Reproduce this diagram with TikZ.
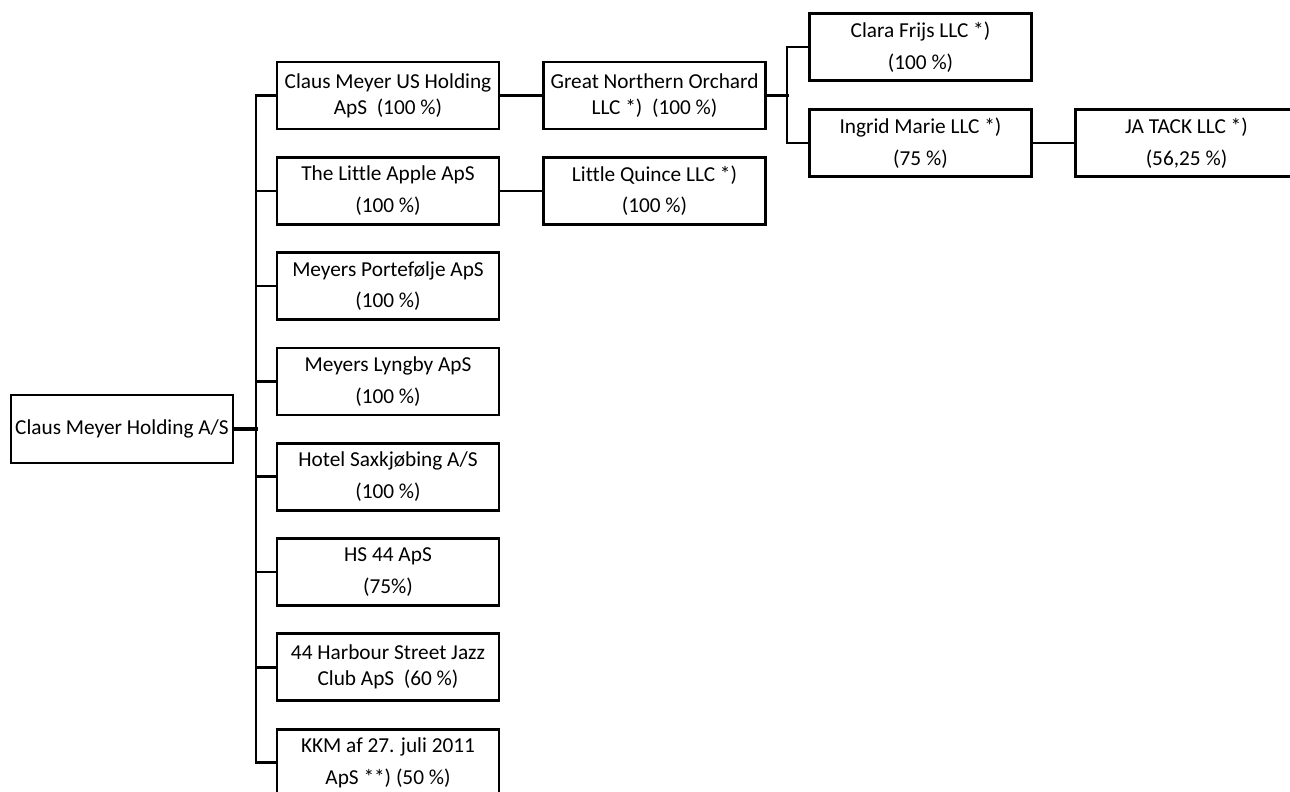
\documentclass[tikz,border=0pt]{standalone}
\usepackage{fontspec}
\setmainfont{Carlito}[Ligatures=CommonOff]
\begin{document}
\begin{tikzpicture}[x=1pt,y=-1pt,
  orgbox/.style={draw=black, line width=2.8pt, minimum width=222pt, minimum height=67pt,
    inner sep=0pt, align=center, fill=white},
  tightlines/.style={font=\fontsize{21.3}{26}\selectfont},
  looselines/.style={font=\fontsize{21.3}{31.5}\selectfont},
  link/.style={line width=2.5pt, line cap=rect}]
\useasboundingbox (0,0) rectangle (1290,792);
\clip (0,0) rectangle (1290,792);
% root
\node[orgbox, tightlines, minimum height=68pt] (root) at (122,429) {Claus Meyer Holding A/S};
% first level
\node[orgbox, tightlines]  (c1) at (388,95.5)  {Claus Meyer US Holding\\ApS~ (100 \%)};
\node[orgbox, looselines]  (c2) at (388,190.8) {The Little Apple ApS\\(100 \%)};
\node[orgbox, looselines]  (c3) at (388,286.1) {Meyers Portefølje ApS\\(100 \%)};
\node[orgbox, looselines]  (c4) at (388,381.4) {Meyers Lyngby ApS\\(100 \%)};
\node[orgbox, looselines]  (c5) at (388,476.7) {Hotel Saxkjøbing A/S\\(100 \%)};
\node[orgbox, looselines]  (c6) at (388,572)   {HS 44 ApS\\(75\%)};
\node[orgbox, tightlines]  (c7) at (388,667.3) {44 Harbour Street Jazz\\Club ApS~ (60 \%)};
\node[orgbox, looselines]  (c8) at (388,762.6) {KKM af 27. juli 2011\\ApS **) (50 \%)};
% second level
\node[orgbox, tightlines]  (gn) at (654.5,95.5)  {Great Northern Orchard\\LLC *)~ (100 \%)};
\node[orgbox, looselines]  (lq) at (654.5,190.8) {Little Quince LLC *)\\(100 \%)};
% third level
\node[orgbox, looselines]  (clara)  at (920.5,47)  {Clara Frijs LLC *)\\(100 \%)};
\node[orgbox, looselines]  (ingrid) at (920.5,143) {Ingrid Marie LLC *)\\(75 \%)};
% fourth level
\node[orgbox, looselines]  (ja) at (1186.5,143) {JA TACK LLC *)\\(56,25 \%)};
% connectors
\coordinate (tx) at (256,0);
\coordinate (sx) at (787,0);
\draw[link, line width=3.2pt] (root.east) -- (root.east -| tx);
\draw[link] (c1.west -| tx) -- (c8.west -| tx);
\foreach \c in {c1,c2,c3,c4,c5,c6,c7,c8} {
  \draw[link] (\c.west -| tx) -- (\c.west);
}
\draw[link] (c1.east) -- (gn.west);
\draw[link] (c2.east) -- (lq.west);
\draw[link, line width=3.2pt] (gn.east) -- (gn.east -| sx);
\draw[link] (clara.west -| sx) -- (ingrid.west -| sx);
\draw[link] (clara.west -| sx) -- (clara.west);
\draw[link] (ingrid.west -| sx) -- (ingrid.west);
\draw[link] (ingrid.east) -- (ja.west);
\end{tikzpicture}
\end{document}
